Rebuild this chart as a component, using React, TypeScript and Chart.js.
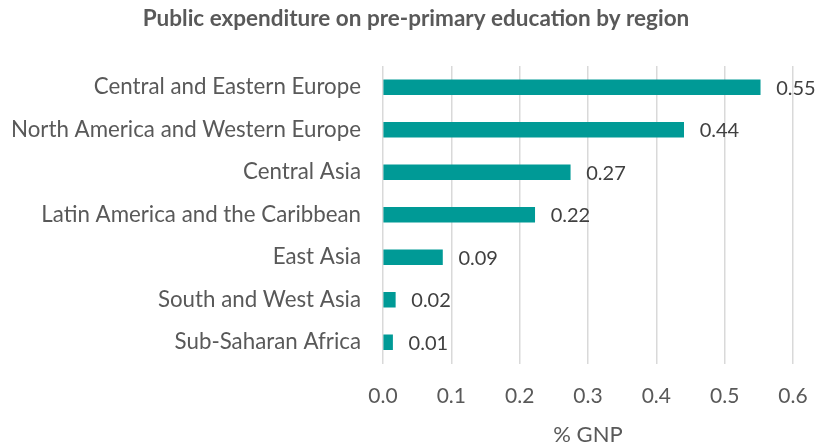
import React, { useEffect, useRef } from "react";
import { Chart, registerables } from "chart.js";

Chart.register(...registerables);

const categories = [
  "Central and Eastern Europe",
  "North America and Western Europe",
  "Central Asia",
  "Latin America and the Caribbean",
  "East Asia",
  "South and West Asia",
  "Sub-Saharan Africa",
];
const values = [0.552, 0.44, 0.274, 0.222, 0.087, 0.018, 0.014];
const valueLabels = ["0.55", "0.44", "0.27", "0.22", "0.09", "0.02", "0.01"];
const xTicks = [0, 0.1, 0.2, 0.3, 0.4, 0.5, 0.6];
const titleText = "Public expenditure on pre-primary education by region";

const FONT = "Lato, 'Open Sans', sans-serif";

const dataLabelPlugin = {
  id: "dataLabels",
  afterDatasetsDraw(chart: any) {
    const ctx = chart.ctx;
    const meta = chart.getDatasetMeta(0);
    ctx.save();
    ctx.font = `20px ${FONT}`;
    ctx.fillStyle = "#404040";
    ctx.textAlign = "left";
    ctx.textBaseline = "middle";
    meta.data.forEach((bar: any, i: number) => {
      ctx.fillText(valueLabels[i], bar.x + 16, bar.y + 1);
    });
    // title, centred as in the reference
    ctx.font = `bold 22.5px ${FONT}`;
    ctx.fillStyle = "#595959";
    ctx.textAlign = "center";
    ctx.fillText(titleText, 416, 19);
    ctx.restore();
  },
};

export default function App() {
  const ref = useRef<HTMLCanvasElement>(null);
  useEffect(() => {
    document.body.style.margin = "0";
    const chart = new Chart(ref.current!, {
      type: "bar",
      data: {
        labels: categories,
        datasets: [
          {
            data: values,
            backgroundColor: "#009a96",
            barThickness: 15,
          },
        ],
      },
      options: {
        indexAxis: "y",
        animation: false,
        responsive: false,
        maintainAspectRatio: false,
        layout: { padding: { left: 0, right: 24, top: 66, bottom: 0 } },
        plugins: {
          legend: { display: false },
          tooltip: { enabled: false },
          title: { display: false },
        },
        scales: {
          x: {
            min: 0,
            max: 0.6,
            afterBuildTicks: (scale: any) => {
              scale.ticks = xTicks.map((v) => ({ value: v }));
            },
            afterFit: (scale: any) => {
              scale.height = 82.5;
              scale.paddingLeft = 0;
              scale.paddingRight = 0;
            },
            ticks: {
              color: "#595959",
              font: { family: FONT, size: 21, lineHeight: 1.2 },
              padding: 20,
              callback: (v: any) => Number(v).toFixed(1),
              maxRotation: 0,
            },
            grid: { color: "#d9d9d9", lineWidth: 1.5, drawTicks: false },
            border: { display: false },
            title: {
              display: true,
              text: "% GNP",
              color: "#595959",
              font: { family: FONT, size: 22, lineHeight: 1 },
              padding: { top: 10, bottom: 0 },
            },
          },
          y: {
            afterFit: (scale: any) => {
              scale.width = 383;
              scale.paddingTop = 0;
              scale.paddingBottom = 0;
            },
            ticks: {
              color: "#595959",
              font: { family: FONT, size: 22.3 },
              padding: 22,
            },
            grid: { display: false, drawTicks: false },
            border: { display: false },
          },
        },
      },
      plugins: [dataLabelPlugin],
    });
    return () => chart.destroy();
  }, []);
  return (
    <div style={{ width: 817, height: 446 }}>
      <canvas ref={ref} width={817} height={446} style={{ display: "block" }} />
    </div>
  );
}
